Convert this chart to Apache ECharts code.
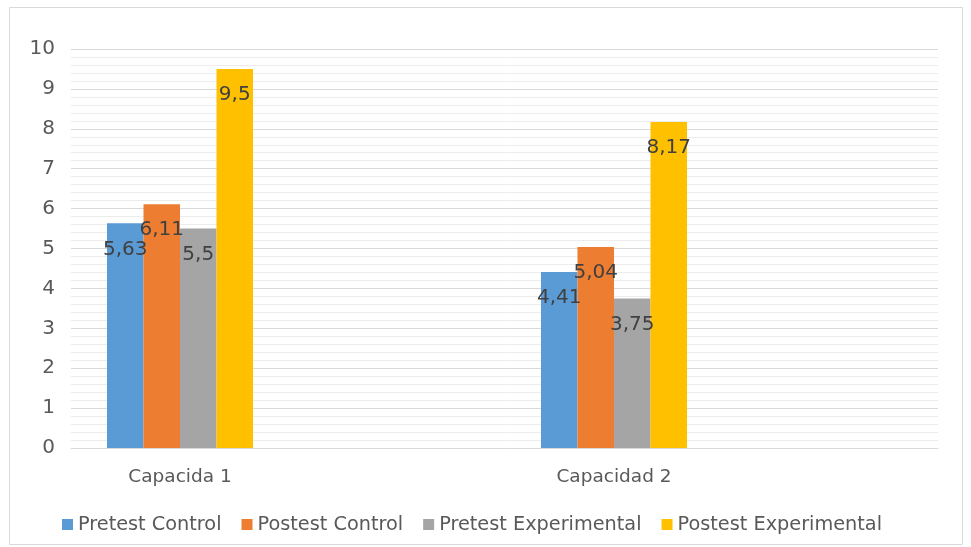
<!DOCTYPE html>
<html>
<head>
<meta charset="utf-8">
<title>Capacidades: pretest y postest</title>
<script src="https://cdn.jsdelivr.net/npm/echarts@6/dist/echarts.min.js"></script>
<style>
  html, body { margin: 0; padding: 0; background: #ffffff; }
  #chart { width: 971px; height: 547px; }
</style>
</head>
<body>
<div id="chart"></div>
<script>
// Categories and series values
const categories = ['Capacida 1', 'Capacidad 2'];
const seriesNames = ['Pretest Control', 'Postest Control', 'Pretest Experimental', 'Postest Experimental'];
const pretestControl = [5.63, 4.41];
const postestControl = [6.11, 5.04];
const pretestExperimental = [5.5, 3.75];
const postestExperimental = [9.5, 8.17];
const yTicks = [0, 1, 2, 3, 4, 5, 6, 7, 8, 9, 10];

const seriesValues = [pretestControl, postestControl, pretestExperimental, postestExperimental];
const colors = ['#5B9BD5', '#ED7D31', '#A5A5A5', '#FFC000'];

const chart = echarts.init(document.getElementById('chart'));

const fmtComma = v => String(v).replace('.', ',');

const option = {
  animation: false,
  color: colors,
  textStyle: { fontFamily: 'DejaVu Sans' },
  graphic: [{
    type: 'rect',
    left: 7, top: 5,
    shape: { width: 953, height: 537 },
    style: { fill: 'none', stroke: '#d9d9d9', lineWidth: 1 },
    silent: true
  }],
  legend: {
    data: seriesNames,
    bottom: 8,
    left: 57,
    icon: 'rect',
    itemWidth: 11,
    itemHeight: 11,
    itemGap: 20,
    textStyle: { color: '#595959', fontSize: 19.3, fontFamily: 'DejaVu Sans' }
  },
  grid: [
    // background grid with gridlines and value axis
    { left: 71, right: 33, top: 49, bottom: 99 },
    // bar grid, categories placed on its two ends
    { left: 180, right: 357, top: 49, bottom: 99 }
  ],
  xAxis: [
    {
      gridIndex: 0, type: 'value', min: 0, max: 1,
      axisLine: { show: true, lineStyle: { color: '#d9d9d9' } },
      axisTick: { show: false }, axisLabel: { show: false }, splitLine: { show: false }
    },
    {
      gridIndex: 1, type: 'category', data: categories, boundaryGap: false,
      axisLine: { show: false }, axisTick: { show: false },
      axisLabel: { color: '#595959', fontSize: 18.5, margin: 20, fontFamily: 'DejaVu Sans' }
    }
  ],
  yAxis: [
    {
      gridIndex: 0, type: 'value', min: yTicks[0], max: yTicks[yTicks.length - 1], interval: 1,
      axisLine: { show: false }, axisTick: { show: false },
      axisLabel: { color: '#595959', fontSize: 20, margin: 16, fontFamily: 'DejaVu Sans' },
      splitLine: { show: true, lineStyle: { color: '#d9d9d9', width: 1 } },
      minorTick: { show: false, splitNumber: 5 },
      minorSplitLine: { show: true, lineStyle: { color: '#ececec', width: 1 } }
    },
    {
      gridIndex: 1, type: 'value', min: 0, max: 10, interval: 1,
      show: false, splitLine: { show: false }
    }
  ],
  series: seriesNames.map((name, i) => ({
    name,
    type: 'bar',
    xAxisIndex: 1,
    yAxisIndex: 1,
    data: seriesValues[i],
    barWidth: 36.5,
    barGap: '0%',
    itemStyle: { color: colors[i] },
    label: {
      show: true,
      position: 'insideTop',
      distance: 16,
      color: '#404040',
      fontSize: 20,
      fontFamily: 'DejaVu Sans',
      formatter: p => fmtComma(p.value)
    }
  }))
};

chart.setOption(option);
</script>
</body>
</html>
